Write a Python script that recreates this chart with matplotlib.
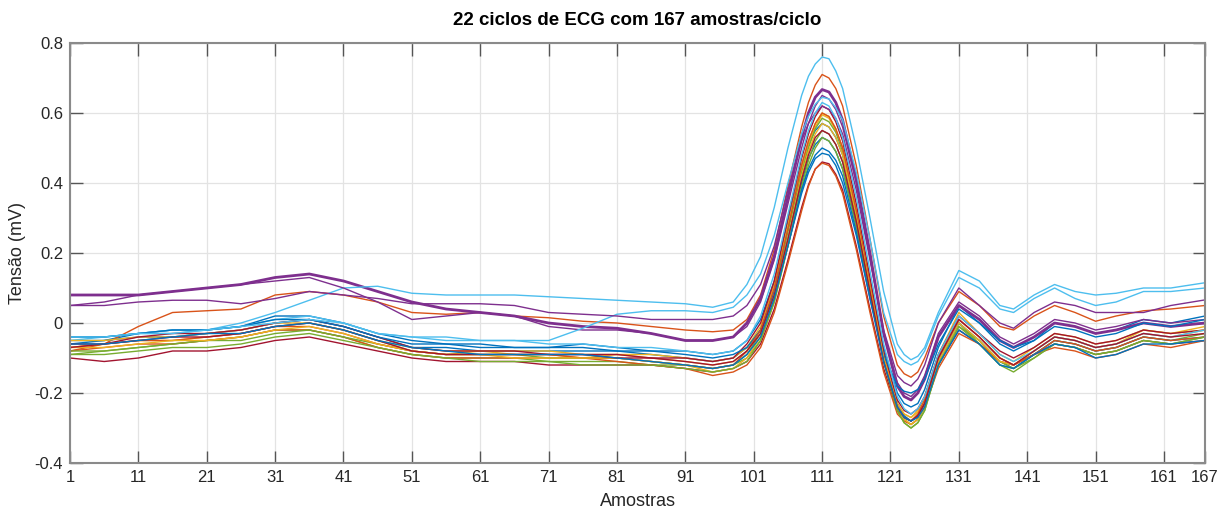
import matplotlib
matplotlib.use("Agg")
import matplotlib.pyplot as plt
from matplotlib import font_manager

# sample positions where each cycle is stored (denser around the QRS complex)
amostras = [1, 6, 11, 16, 21, 26, 31, 36, 41, 46, 51, 56, 61, 66, 71, 76, 81, 86, 91,
            95, 98, 100, 102, 104, 106, 108, 109, 110, 111, 112, 113, 114, 116, 118, 120, 122, 123, 124, 125, 126, 128,
            131, 134, 137, 139, 142, 145, 148, 151, 154, 158, 162, 167]

# tension (mV) of each cycle at the sample positions above
ciclo_01 = [-0.05, -0.05, -0.03, -0.02, -0.02, -0.01, 0.02, 0.02, 0.00, -0.03, -0.05, -0.06, -0.06, -0.07, -0.07, -0.06, -0.07, -0.08, -0.08,
            -0.09, -0.08, -0.05, 0.01, 0.12, 0.29, 0.45, 0.51, 0.55, 0.57, 0.56, 0.53, 0.48, 0.31, 0.12, -0.07, -0.20, -0.23, -0.24, -0.23, -0.19, -0.07,
            0.05, 0.00, -0.06, -0.08, -0.05, 0.00, -0.01, -0.03, -0.02, 0.01, 0.00, 0.02]
ciclo_02 = [-0.08, -0.06, -0.01, 0.03, 0.035, 0.04, 0.08, 0.09, 0.08, 0.06, 0.03, 0.025, 0.03, 0.02, 0.015, 0.005, 0.00, -0.01, -0.02,
            -0.025, -0.02, 0.01, 0.08, 0.21, 0.39, 0.56, 0.63, 0.68, 0.71, 0.70, 0.67, 0.62, 0.45, 0.24, 0.02, -0.12, -0.145, -0.155, -0.14, -0.10, 0.00,
            0.09, 0.05, -0.01, -0.02, 0.02, 0.05, 0.03, 0.005, 0.02, 0.035, 0.04, 0.05]
ciclo_03 = [-0.07, -0.06, -0.05, -0.05, -0.04, -0.03, -0.01, 0.00, -0.02, -0.05, -0.08, -0.09, -0.08, -0.09, -0.09, -0.10, -0.09, -0.10, -0.11,
            -0.12, -0.11, -0.08, -0.02, 0.10, 0.27, 0.44, 0.51, 0.56, 0.595, 0.585, 0.55, 0.50, 0.32, 0.11, -0.09, -0.23, -0.26, -0.27, -0.255, -0.22, -0.10,
            0.01, -0.04, -0.10, -0.12, -0.08, -0.04, -0.05, -0.07, -0.06, -0.02, -0.03, -0.02]
ciclo_04 = [0.08, 0.08, 0.08, 0.09, 0.10, 0.11, 0.13, 0.14, 0.12, 0.09, 0.06, 0.04, 0.03, 0.02, 0.00, -0.01, -0.015, -0.03, -0.05,
            -0.05, -0.04, 0.00, 0.07, 0.19, 0.36, 0.53, 0.60, 0.645, 0.667, 0.66, 0.63, 0.58, 0.41, 0.20, -0.03, -0.18, -0.21, -0.22, -0.20, -0.16, -0.04,
            0.05, 0.01, -0.05, -0.07, -0.04, 0.00, -0.01, -0.03, -0.02, 0.00, -0.01, 0.00]
ciclo_05 = [-0.09, -0.08, -0.07, -0.06, -0.05, -0.04, -0.02, -0.02, -0.04, -0.07, -0.09, -0.10, -0.10, -0.10, -0.11, -0.11, -0.11, -0.12, -0.12,
            -0.13, -0.12, -0.09, -0.03, 0.09, 0.26, 0.43, 0.50, 0.555, 0.585, 0.575, 0.545, 0.49, 0.31, 0.10, -0.10, -0.24, -0.275, -0.29, -0.275, -0.24, -0.11,
            0.00, -0.06, -0.12, -0.13, -0.09, -0.05, -0.06, -0.08, -0.07, -0.04, -0.05, -0.03]
ciclo_06 = [-0.05, -0.04, -0.03, -0.03, -0.02, 0.00, 0.03, 0.065, 0.10, 0.105, 0.085, 0.08, 0.08, 0.08, 0.075, 0.07, 0.065, 0.06, 0.055,
            0.045, 0.06, 0.11, 0.19, 0.33, 0.50, 0.65, 0.705, 0.74, 0.76, 0.755, 0.72, 0.67, 0.50, 0.30, 0.09, -0.06, -0.09, -0.105, -0.095, -0.07, 0.03,
            0.15, 0.12, 0.05, 0.04, 0.08, 0.11, 0.09, 0.08, 0.085, 0.10, 0.10, 0.115]
ciclo_07 = [-0.10, -0.11, -0.10, -0.08, -0.08, -0.07, -0.05, -0.04, -0.06, -0.08, -0.10, -0.11, -0.11, -0.11, -0.12, -0.12, -0.12, -0.12, -0.13,
            -0.14, -0.13, -0.11, -0.06, 0.04, 0.18, 0.33, 0.395, 0.44, 0.46, 0.455, 0.425, 0.38, 0.22, 0.04, -0.13, -0.25, -0.27, -0.28, -0.265, -0.23, -0.12,
            -0.02, -0.06, -0.11, -0.12, -0.09, -0.06, -0.07, -0.09, -0.08, -0.05, -0.06, -0.05]
ciclo_08 = [-0.06, -0.05, -0.04, -0.04, -0.03, -0.02, 0.00, 0.01, -0.01, -0.04, -0.07, -0.07, -0.08, -0.08, -0.08, -0.08, -0.08, -0.09, -0.10,
            -0.11, -0.10, -0.07, -0.02, 0.09, 0.24, 0.40, 0.47, 0.51, 0.53, 0.52, 0.49, 0.44, 0.28, 0.09, -0.10, -0.23, -0.265, -0.28, -0.265, -0.23, -0.11,
            0.00, -0.05, -0.11, -0.13, -0.09, -0.05, -0.06, -0.08, -0.07, -0.04, -0.05, -0.04]
ciclo_09 = [-0.08, -0.07, -0.06, -0.06, -0.05, -0.04, -0.02, -0.02, -0.04, -0.07, -0.09, -0.10, -0.10, -0.10, -0.10, -0.10, -0.11, -0.12, -0.13,
            -0.15, -0.14, -0.12, -0.07, 0.03, 0.17, 0.32, 0.39, 0.44, 0.457, 0.45, 0.42, 0.37, 0.21, 0.03, -0.14, -0.26, -0.28, -0.29, -0.275, -0.24, -0.13,
            -0.03, -0.06, -0.11, -0.12, -0.09, -0.07, -0.08, -0.10, -0.09, -0.06, -0.07, -0.05]
ciclo_10 = [-0.05, -0.05, -0.04, -0.04, -0.03, -0.02, 0.00, 0.00, -0.02, -0.05, -0.07, -0.08, -0.08, -0.08, -0.08, -0.09, -0.09, -0.09, -0.10,
            -0.11, -0.10, -0.07, -0.01, 0.11, 0.28, 0.45, 0.52, 0.57, 0.60, 0.59, 0.555, 0.50, 0.32, 0.11, -0.09, -0.23, -0.26, -0.27, -0.25, -0.21, -0.09,
            0.03, -0.03, -0.09, -0.11, -0.07, -0.03, -0.04, -0.06, -0.05, -0.02, -0.03, -0.01]
ciclo_11 = [0.05, 0.06, 0.08, 0.09, 0.10, 0.11, 0.12, 0.13, 0.10, 0.06, 0.01, 0.02, 0.03, 0.02, -0.01, -0.02, -0.02, -0.03, -0.05,
            -0.05, -0.04, -0.01, 0.06, 0.18, 0.34, 0.50, 0.57, 0.62, 0.65, 0.64, 0.61, 0.56, 0.40, 0.19, -0.03, -0.17, -0.20, -0.21, -0.19, -0.15, -0.03,
            0.06, 0.02, -0.04, -0.06, -0.03, 0.01, 0.00, -0.02, -0.01, 0.01, 0.00, 0.01]
ciclo_12 = [-0.08, -0.08, -0.07, -0.06, -0.05, -0.05, -0.03, -0.02, -0.04, -0.06, -0.08, -0.09, -0.09, -0.09, -0.10, -0.10, -0.10, -0.11, -0.12,
            -0.13, -0.12, -0.10, -0.05, 0.06, 0.22, 0.38, 0.45, 0.50, 0.53, 0.52, 0.49, 0.44, 0.27, 0.08, -0.11, -0.25, -0.285, -0.30, -0.285, -0.25, -0.12,
            -0.01, -0.05, -0.11, -0.13, -0.10, -0.06, -0.07, -0.09, -0.08, -0.05, -0.06, -0.04]
ciclo_13 = [-0.04, -0.04, -0.03, -0.02, -0.02, -0.01, 0.01, 0.02, 0.00, -0.03, -0.04, -0.04, -0.05, -0.05, -0.05, -0.015, 0.025, 0.035, 0.035,
            0.03, 0.045, 0.08, 0.14, 0.25, 0.40, 0.54, 0.59, 0.625, 0.645, 0.64, 0.615, 0.58, 0.43, 0.24, 0.03, -0.09, -0.11, -0.12, -0.11, -0.08, 0.02,
            0.13, 0.10, 0.04, 0.03, 0.07, 0.10, 0.07, 0.05, 0.06, 0.09, 0.09, 0.10]
ciclo_14 = [-0.06, -0.06, -0.04, -0.03, -0.03, -0.02, 0.00, 0.01, -0.01, -0.04, -0.07, -0.08, -0.08, -0.08, -0.09, -0.09, -0.09, -0.10, -0.10,
            -0.11, -0.10, -0.06, 0.00, 0.12, 0.30, 0.47, 0.54, 0.59, 0.62, 0.61, 0.575, 0.52, 0.34, 0.13, -0.08, -0.22, -0.25, -0.26, -0.245, -0.21, -0.09,
            0.02, -0.03, -0.08, -0.10, -0.07, -0.03, -0.04, -0.06, -0.05, -0.02, -0.03, -0.02]
ciclo_15 = [-0.04, -0.04, -0.03, -0.02, -0.02, -0.01, 0.01, 0.01, -0.01, -0.04, -0.06, -0.06, -0.07, -0.07, -0.07, -0.07, -0.08, -0.08, -0.09,
            -0.10, -0.09, -0.07, -0.02, 0.08, 0.22, 0.37, 0.43, 0.47, 0.485, 0.48, 0.45, 0.40, 0.25, 0.07, -0.09, -0.18, -0.195, -0.20, -0.19, -0.16, -0.06,
            0.04, 0.00, -0.05, -0.07, -0.05, -0.01, -0.02, -0.04, -0.03, 0.00, -0.01, 0.01]
ciclo_16 = [-0.07, -0.06, -0.05, -0.05, -0.04, -0.03, -0.01, -0.01, -0.03, -0.06, -0.08, -0.09, -0.09, -0.09, -0.09, -0.10, -0.10, -0.11, -0.12,
            -0.13, -0.12, -0.08, -0.02, 0.10, 0.27, 0.45, 0.52, 0.57, 0.60, 0.59, 0.555, 0.50, 0.32, 0.11, -0.10, -0.24, -0.27, -0.28, -0.26, -0.22, -0.10,
            0.01, -0.04, -0.10, -0.12, -0.09, -0.05, -0.06, -0.08, -0.07, -0.04, -0.05, -0.04]
ciclo_17 = [-0.07, -0.07, -0.06, -0.05, -0.05, -0.04, -0.02, -0.01, -0.03, -0.06, -0.08, -0.09, -0.09, -0.10, -0.10, -0.10, -0.10, -0.11, -0.12,
            -0.14, -0.13, -0.10, -0.04, 0.08, 0.24, 0.42, 0.49, 0.54, 0.57, 0.56, 0.53, 0.48, 0.30, 0.10, -0.10, -0.24, -0.275, -0.29, -0.275, -0.24, -0.11,
            0.00, -0.05, -0.11, -0.12, -0.08, -0.04, -0.05, -0.07, -0.06, -0.03, -0.04, -0.02]
ciclo_18 = [0.05, 0.05, 0.06, 0.065, 0.065, 0.055, 0.07, 0.09, 0.08, 0.07, 0.055, 0.055, 0.055, 0.05, 0.03, 0.025, 0.02, 0.01, 0.01,
            0.01, 0.02, 0.05, 0.11, 0.22, 0.38, 0.52, 0.57, 0.60, 0.62, 0.61, 0.585, 0.54, 0.38, 0.18, -0.02, -0.15, -0.17, -0.18, -0.16, -0.12, 0.00,
            0.10, 0.05, 0.00, -0.015, 0.03, 0.06, 0.05, 0.03, 0.03, 0.03, 0.05, 0.066]
ciclo_19 = [-0.09, -0.09, -0.08, -0.07, -0.07, -0.06, -0.04, -0.03, -0.05, -0.07, -0.09, -0.10, -0.11, -0.11, -0.11, -0.12, -0.12, -0.12, -0.13,
            -0.14, -0.13, -0.11, -0.05, 0.06, 0.22, 0.39, 0.465, 0.52, 0.55, 0.54, 0.51, 0.46, 0.29, 0.09, -0.11, -0.25, -0.285, -0.30, -0.285, -0.25, -0.12,
            -0.01, -0.06, -0.12, -0.14, -0.10, -0.06, -0.07, -0.09, -0.08, -0.05, -0.06, -0.04]
ciclo_20 = [-0.04, -0.04, -0.03, -0.03, -0.02, -0.01, 0.00, 0.01, 0.00, -0.03, -0.04, -0.05, -0.05, -0.05, -0.06, -0.06, -0.07, -0.07, -0.08,
            -0.09, -0.08, -0.05, 0.02, 0.14, 0.31, 0.48, 0.55, 0.60, 0.63, 0.62, 0.585, 0.53, 0.36, 0.15, -0.06, -0.21, -0.245, -0.26, -0.245, -0.21, -0.09,
            0.02, -0.03, -0.09, -0.11, -0.08, -0.04, -0.05, -0.07, -0.06, -0.03, -0.04, -0.02]
ciclo_21 = [-0.07, -0.06, -0.05, -0.04, -0.04, -0.03, -0.01, 0.00, -0.02, -0.05, -0.08, -0.09, -0.09, -0.09, -0.09, -0.09, -0.10, -0.10, -0.11,
            -0.12, -0.11, -0.08, -0.03, 0.08, 0.24, 0.41, 0.48, 0.53, 0.55, 0.54, 0.51, 0.46, 0.29, 0.09, -0.11, -0.24, -0.27, -0.28, -0.265, -0.23, -0.10,
            0.01, -0.04, -0.10, -0.12, -0.08, -0.04, -0.05, -0.07, -0.06, -0.03, -0.04, -0.03]
ciclo_22 = [-0.06, -0.06, -0.05, -0.04, -0.03, -0.03, -0.01, 0.00, -0.02, -0.05, -0.07, -0.08, -0.09, -0.09, -0.09, -0.09, -0.10, -0.11, -0.12,
            -0.13, -0.12, -0.09, -0.04, 0.07, 0.22, 0.38, 0.44, 0.48, 0.50, 0.49, 0.465, 0.42, 0.26, 0.07, -0.11, -0.24, -0.27, -0.28, -0.27, -0.24, -0.12,
            -0.02, -0.06, -0.12, -0.13, -0.09, -0.06, -0.07, -0.10, -0.09, -0.06, -0.06, -0.05]

ciclos = [ciclo_01, ciclo_02, ciclo_03, ciclo_04, ciclo_05, ciclo_06, ciclo_07, ciclo_08,
          ciclo_09, ciclo_10, ciclo_11, ciclo_12, ciclo_13, ciclo_14, ciclo_15, ciclo_16,
          ciclo_17, ciclo_18, ciclo_19, ciclo_20, ciclo_21, ciclo_22]

xticks = [1, 11, 21, 31, 41, 51, 61, 71, 81, 91, 101, 111, 121, 131, 141, 151, 161, 167]
yticks = [-0.4, -0.2, 0, 0.2, 0.4, 0.6, 0.8]
ytick_labels = ["-0.4", "-0.2", "0", "0.2", "0.4", "0.6", "0.8"]

# default line colour order
cores = ["#0072BD", "#D95319", "#EDB120", "#7E2F8E", "#77AC30", "#4DBEEE", "#A2142F"]

nomes = {f.name for f in font_manager.fontManager.ttflist}
fonte = "Liberation Sans Narrow" if "Liberation Sans Narrow" in nomes else "Liberation Sans"
plt.rcParams["font.family"] = [fonte, "DejaVu Sans"]

fig = plt.figure(figsize=(12.23, 5.13), dpi=100)
ax = fig.add_axes([70 / 1223, 1 - 463 / 513, 1135 / 1223, 420 / 513])

for i, ciclo in enumerate(ciclos):
    lw = 2.0 if i == 3 else 1.0
    ax.plot(amostras, ciclo, color=cores[i % 7], lw=lw, solid_joinstyle="round")

ax.set_xlim(1, 167)
ax.set_ylim(-0.4, 0.8)
ax.set_xticks(xticks)
ax.set_yticks(yticks)
ax.set_yticklabels(ytick_labels)
ax.grid(True, color="#e3e3e3", lw=0.9)
ax.set_axisbelow(True)
ax.tick_params(direction="in", length=9, width=1.0, color="#555555",
               labelsize=12, labelcolor="#262626", top=True, right=True, pad=5)
for s in ax.spines.values():
    s.set_color("#8a8a8a")
    s.set_linewidth(1.5)

ax.set_title("22 ciclos de ECG com 167 amostras/ciclo", fontsize=13.5,
             fontweight="bold", color="black", pad=13)
ax.set_xlabel("Amostras", fontsize=13, color="#262626", labelpad=6)
ax.set_ylabel("Tensão (mV)", fontsize=13, color="#262626", labelpad=6)

fig.savefig("out.png", dpi=100)
